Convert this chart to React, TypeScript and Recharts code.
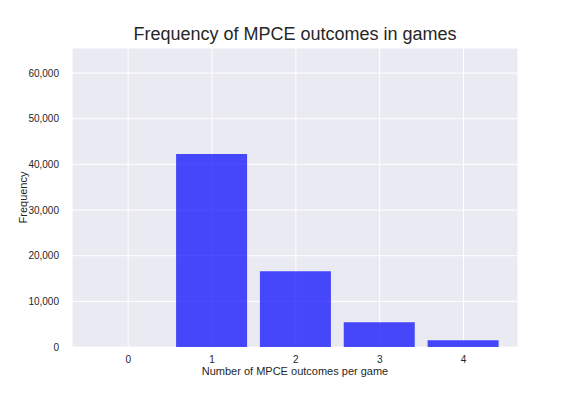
import { BarChart, Bar, XAxis, YAxis, CartesianGrid } from 'recharts';

document.body.style.margin = '0';

const outcomes = [0, 1, 2, 3, 4];
const frequencies = [0, 42260, 16600, 5420, 1480];
const yTicks = [0, 10000, 20000, 30000, 40000, 50000, 60000];

const data = outcomes.map((o, i) => ({ outcome: o, frequency: frequencies[i] }));

const textColor = '#262626';
const font = '"Liberation Sans", Arial, sans-serif';
const formatThousands = (v: number) => v.toLocaleString('en-US');

export default function App() {
  return (
    <div style={{ position: 'relative', width: 576, height: 396, fontFamily: font }}>
      <div
        style={{
          position: 'absolute',
          top: 24,
          left: 72,
          width: 446,
          textAlign: 'center',
          fontSize: 18,
          color: textColor,
        }}
      >
        Frequency of MPCE outcomes in games
      </div>
      <BarChart
        width={576}
        height={396}
        data={data}
        margin={{ top: 48, right: 58, left: 0, bottom: 0 }}
      >
        <CartesianGrid stroke="#ffffff" strokeWidth={1} fill="#eaeaf2" vertical horizontal />
        <XAxis
          dataKey="outcome"
          type="number"
          domain={[-0.67, 4.65]}
          ticks={outcomes}
          allowDataOverflow
          height={49}
          tickLine={false}
          axisLine={false}
          tickMargin={3}
          tick={{ fontSize: 10, fill: textColor, fontFamily: font }}
          label={{
            value: 'Number of MPCE outcomes per game',
            position: 'insideBottom',
            offset: 21,
            style: { fontSize: 11, fill: textColor, fontFamily: font },
          }}
        />
        <YAxis
          type="number"
          domain={[0, 65500]}
          ticks={yTicks}
          allowDataOverflow
          width={72}
          tickLine={false}
          axisLine={false}
          tickMargin={7}
          tickFormatter={formatThousands}
          tick={{ fontSize: 10, fill: textColor, fontFamily: font }}
          label={{
            value: 'Frequency',
            angle: -90,
            position: 'insideLeft',
            offset: 23,
            style: { textAnchor: 'middle', fontSize: 11, fill: textColor, fontFamily: font },
          }}
        />
        <Bar dataKey="frequency" fill="#0000ff" fillOpacity={0.7} barSize={71} isAnimationActive={false} />
      </BarChart>
    </div>
  );
}
